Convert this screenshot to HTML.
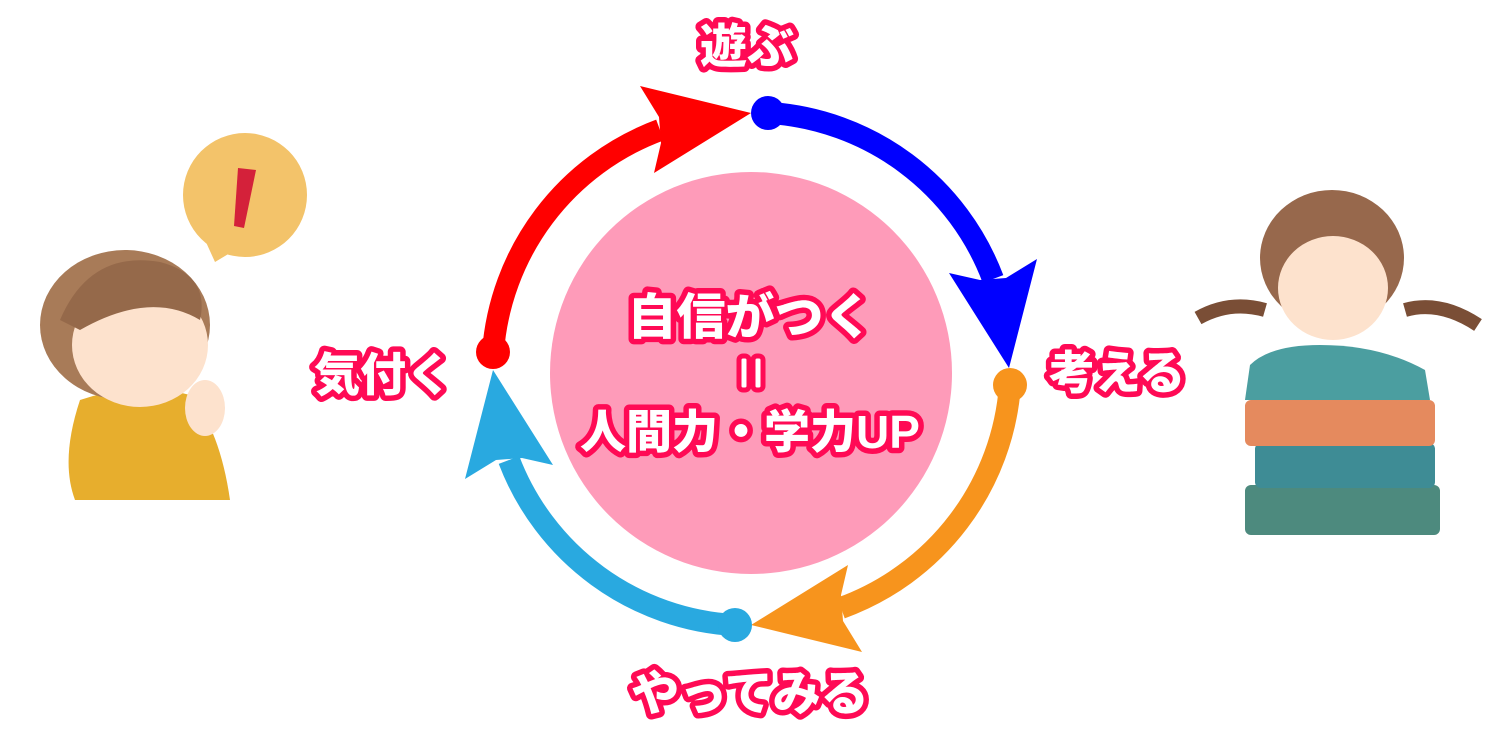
<!DOCTYPE html>
<html><head><meta charset="utf-8"><style>
html,body{margin:0;padding:0;background:#fff;}
svg{display:block}
text{font-family:"Liberation Sans","Noto Sans CJK JP",sans-serif;font-weight:900;fill:#fff;stroke:#ff0a55;stroke-width:11px;paint-order:stroke;stroke-linejoin:round;text-anchor:middle;}
</style></head><body>
<svg width="1500" height="740" viewBox="0 0 1500 740" xmlns="http://www.w3.org/2000/svg">
<circle cx="751" cy="373" r="201" fill="#fe9bb9"/>
<g fill="none" stroke-width="22">
<path d="M493 352 A257 257 0 0 1 660 130" stroke="#ff0000"/>
<path d="M770 113 A257 257 0 0 1 993 279" stroke="#0000ff"/>
<path d="M1010 385 A257 257 0 0 1 841 608" stroke="#f7941d"/>
<path d="M735 625 A257 257 0 0 1 509 460" stroke="#29a9e0"/>
</g>
<polygon points="751,113 640,86 659,117 661,143 654,173" fill="#ff0000"/>
<polygon points="1009,368 1037,259 1006,278 980,280 949,273" fill="#0000ff"/>
<polygon points="751,625 862,652 843,621 841,595 848,565" fill="#f7941d"/>
<polygon points="493,370 465,479 496,460 522,458 553,465" fill="#29a9e0"/>
<circle cx="493" cy="352" r="17" fill="#ff0000"/>
<circle cx="768" cy="113" r="17" fill="#0000ff"/>
<circle cx="1010" cy="385" r="17" fill="#f7941d"/>
<circle cx="735" cy="625" r="17" fill="#29a9e0"/>
<text x="747" y="63" font-size="47">遊ぶ</text>
<text x="1117" y="389" font-size="46">考える</text>
<text x="750" y="710" font-size="48">やってみる</text>
<text x="383" y="391" font-size="46">気付く</text>
<text x="750" y="334" font-size="49">自信がつく</text>
<g fill="#fff" stroke="#ff0a55" stroke-width="5">
<rect x="739" y="356" width="10" height="34" rx="4"/>
<rect x="753" y="356" width="10" height="34" rx="4"/>
</g>
<text x="750" y="448" font-size="46">人間力・学力UP</text>
<circle cx="245" cy="195" r="62" fill="#f3c36a"/>
<polygon points="205,240 215,262 235,250" fill="#f3c36a"/>
<path d="M238 168 L256 170 L244 228 L234 226 Z" fill="#d4213a"/>
<path d="M80 400 Q60 460 75 500 L230 500 Q220 430 190 395 Q140 380 80 400Z" fill="#e7ae2d"/>
<ellipse cx="125" cy="325" rx="85" ry="75" fill="#a87b58"/>
<ellipse cx="140" cy="345" rx="68" ry="62" fill="#fde2cd"/>
<path d="M60 320 Q90 250 160 262 Q210 275 200 320 Q150 290 80 330Z" fill="#95694a"/>
<ellipse cx="205" cy="408" rx="20" ry="28" fill="#fde2cd"/>
<rect x="1245" y="485" width="195" height="50" rx="6" fill="#4d8a7e"/>
<rect x="1255" y="443" width="180" height="45" rx="6" fill="#3e8c95"/>
<rect x="1245" y="400" width="190" height="46" rx="6" fill="#e58a5e"/>
<path d="M1250 365 Q1270 345 1320 345 Q1380 345 1425 370 L1430 400 L1245 400Z" fill="#4b9ea0"/>
<ellipse cx="1332" cy="258" rx="72" ry="68" fill="#97684c"/>
<ellipse cx="1333" cy="288" rx="55" ry="52" fill="#fde2cd"/>
<path d="M1198 318 Q1230 300 1265 310" stroke="#7a4e36" stroke-width="14" fill="none"/>
<path d="M1405 310 Q1440 300 1478 325" stroke="#7a4e36" stroke-width="14" fill="none"/>
</svg>
</body></html>
